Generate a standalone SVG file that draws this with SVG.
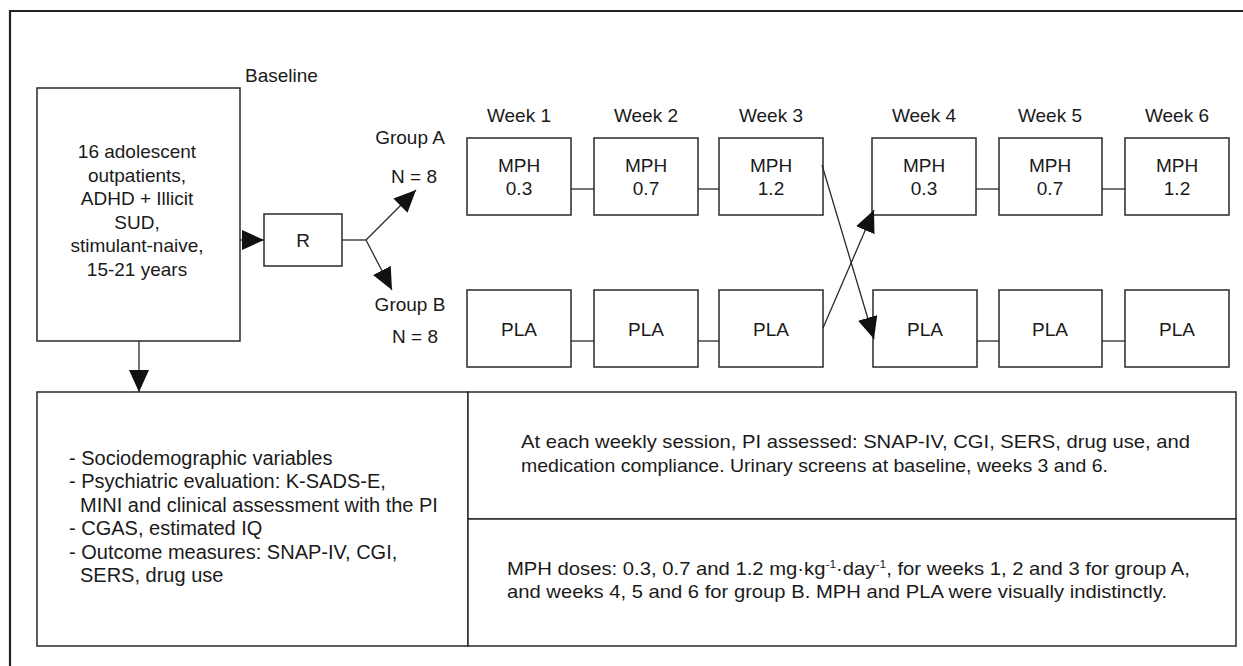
<svg xmlns="http://www.w3.org/2000/svg" width="1243" height="666" viewBox="0 0 1243 666">
<style>
  .bg{fill:#ffffff}
  .box{fill:#ffffff;stroke:#2a2a2a;stroke-width:1.5}
  .ln{fill:none;stroke:#2a2a2a;stroke-width:1.3}
  .t{font-family:"Liberation Sans",Arial,Helvetica,sans-serif;font-size:19px;fill:#1a1a1a}
  .c{text-anchor:middle}
  .s{font-family:"Liberation Sans",Arial,Helvetica,sans-serif;font-size:20px;fill:#1a1a1a}
  .n{font-family:"Liberation Sans",Arial,Helvetica,sans-serif;font-size:18.5px;fill:#1a1a1a}
</style>
<defs>
  <marker id="ah" markerUnits="userSpaceOnUse" markerWidth="22" markerHeight="20" refX="22" refY="10" orient="auto" viewBox="0 0 22 20">
    <path d="M0,0 L22,10 L0,20 z" fill="#111"/>
  </marker>
</defs>
<rect class="bg" x="0" y="0" width="1243" height="666"/>
<path d="M10,666 L10,11 L1243,11" fill="none" stroke="#222" stroke-width="2.2"/>
<text class="t" x="245" y="82">Baseline</text>

<g id="baseline-box">
  <rect class="box" x="37" y="88" width="203" height="253"/>
  <text class="t c" x="137" y="158">16 adolescent</text>
  <text class="t c" x="137" y="182">outpatients,</text>
  <text class="t c" x="137" y="205">ADHD + Illicit</text>
  <text class="t c" x="137" y="229">SUD,</text>
  <text class="t c" x="137" y="252">stimulant-naive,</text>
  <text class="t c" x="137" y="276">15-21 years</text>
</g>

<g id="r-box">
  <rect class="box" x="264" y="214" width="78" height="52"/>
  <text class="t c" x="303" y="247">R</text>
</g>

<g id="group-labels">
  <text class="t c" x="410" y="144">Group A</text>
  <text class="t c" x="414" y="183">N = 8</text>
  <text class="t c" x="410" y="311">Group B</text>
  <text class="t c" x="415" y="343">N = 8</text>
</g>

<g id="week-labels">
  <text class="t c" x="519" y="122">Week 1</text>
  <text class="t c" x="646" y="122">Week 2</text>
  <text class="t c" x="771" y="122">Week 3</text>
  <text class="t c" x="924" y="122">Week 4</text>
  <text class="t c" x="1050" y="122">Week 5</text>
  <text class="t c" x="1177" y="122">Week 6</text>
</g>

<g id="a1"><rect class="box" x="467" y="138" width="104" height="77"/><text class="t c" x="519" y="172">MPH</text><text class="t c" x="519" y="195">0.3</text></g>
<g id="a2"><rect class="box" x="594" y="138" width="104" height="77"/><text class="t c" x="646" y="172">MPH</text><text class="t c" x="646" y="195">0.7</text></g>
<g id="a3"><rect class="box" x="719" y="138" width="104" height="77"/><text class="t c" x="771" y="172">MPH</text><text class="t c" x="771" y="195">1.2</text></g>
<g id="a4"><rect class="box" x="872" y="138" width="104" height="77"/><text class="t c" x="924" y="172">MPH</text><text class="t c" x="924" y="195">0.3</text></g>
<g id="a5"><rect class="box" x="999" y="138" width="103" height="77"/><text class="t c" x="1050" y="172">MPH</text><text class="t c" x="1050" y="195">0.7</text></g>
<g id="a6"><rect class="box" x="1125" y="138" width="104" height="77"/><text class="t c" x="1177" y="172">MPH</text><text class="t c" x="1177" y="195">1.2</text></g>

<g id="b1"><rect class="box" x="467" y="290" width="104" height="77"/><text class="t c" x="519" y="336">PLA</text></g>
<g id="b2"><rect class="box" x="594" y="290" width="104" height="77"/><text class="t c" x="646" y="336">PLA</text></g>
<g id="b3"><rect class="box" x="719" y="290" width="104" height="77"/><text class="t c" x="771" y="336">PLA</text></g>
<g id="b4"><rect class="box" x="873" y="290" width="104" height="77"/><text class="t c" x="925" y="336">PLA</text></g>
<g id="b5"><rect class="box" x="999" y="290" width="103" height="77"/><text class="t c" x="1050" y="336">PLA</text></g>
<g id="b6"><rect class="box" x="1125" y="290" width="104" height="77"/><text class="t c" x="1177" y="336">PLA</text></g>

<g id="measures-box">
  <rect class="box" x="37" y="392" width="431" height="254"/>
  <text class="s" x="69" y="465">- Sociodemographic variables</text>
  <text class="s" x="69" y="488">- Psychiatric evaluation: K-SADS-E,</text>
  <text class="s" x="80" y="512">MINI and clinical assessment with the PI</text>
  <text class="s" x="69" y="535">- CGAS, estimated IQ</text>
  <text class="s" x="69" y="559">- Outcome measures: SNAP-IV, CGI,</text>
  <text class="s" x="80" y="582">SERS, drug use</text>
</g>

<g id="weekly-box">
  <rect class="box" x="468" y="392" width="768" height="127"/>
  <text class="n" x="521" y="448" textLength="669" lengthAdjust="spacingAndGlyphs">At each weekly session, PI assessed: SNAP-IV, CGI, SERS, drug use, and</text>
  <text class="n" x="521" y="472" textLength="587" lengthAdjust="spacingAndGlyphs">medication compliance. Urinary screens at baseline, weeks 3 and 6.</text>
</g>

<g id="doses-box">
  <rect class="box" x="468" y="519" width="768" height="127"/>
  <text class="n" x="507" y="575" textLength="683" lengthAdjust="spacingAndGlyphs">MPH doses: 0.3, 0.7 and 1.2 mg·kg<tspan dy="-7" font-size="11">-1</tspan><tspan dy="7">·day</tspan><tspan dy="-7" font-size="11">-1</tspan><tspan dy="7">, for weeks 1, 2 and 3 for group A,</tspan></text>
  <text class="n" x="507" y="598" textLength="660" lengthAdjust="spacingAndGlyphs">and weeks 4, 5 and 6 for group B. MPH and PLA were visually indistinctly.</text>
</g>

<g id="connectors">
  <line class="ln" x1="240" y1="240" x2="264" y2="240" marker-end="url(#ah)"/>
  <line class="ln" x1="139" y1="341" x2="139" y2="392" marker-end="url(#ah)"/>
  <polyline class="ln" points="342,240 366,240"/>
  <line class="ln" x1="366" y1="240" x2="416" y2="190" marker-end="url(#ah)"/>
  <line class="ln" x1="366" y1="240" x2="392" y2="290" marker-end="url(#ah)"/>
  <line class="ln" x1="571" y1="189" x2="594" y2="189"/>
  <line class="ln" x1="698" y1="189" x2="719" y2="189"/>
  <line class="ln" x1="976" y1="189" x2="999" y2="189"/>
  <line class="ln" x1="1102" y1="189" x2="1125" y2="189"/>
  <line class="ln" x1="571" y1="341" x2="594" y2="341"/>
  <line class="ln" x1="698" y1="341" x2="719" y2="341"/>
  <line class="ln" x1="977" y1="341" x2="999" y2="341"/>
  <line class="ln" x1="1102" y1="341" x2="1125" y2="341"/>
  <line class="ln" x1="822" y1="165" x2="874" y2="339" marker-end="url(#ah)"/>
  <line class="ln" x1="823" y1="328" x2="874" y2="210" marker-end="url(#ah)"/>
</g>
</svg>
